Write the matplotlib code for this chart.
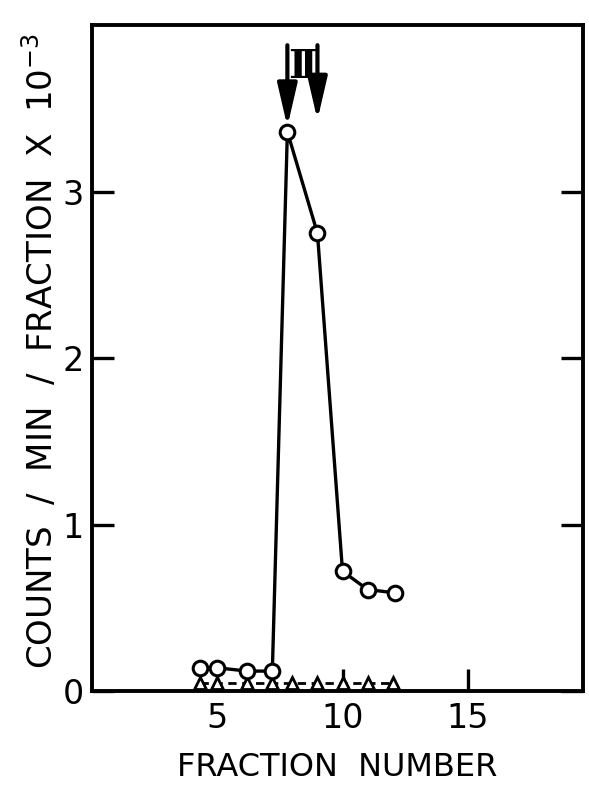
import numpy as np
import matplotlib
matplotlib.use('Agg')
import matplotlib.pyplot as plt

# open circles: counts/min/fraction (x 10^-3)
circle_x = [4.3, 5.0, 6.2, 7.2, 7.8, 9.0, 10.0, 11.0, 12.1]
circle_y = [0.14, 0.14, 0.12, 0.12, 3.36, 2.75, 0.72, 0.61, 0.59]

# open triangles: background, dashed
tri_x = [4.3, 5.0, 6.2, 7.2, 8.0, 9.0, 10.0, 11.0, 12.0]
tri_y = [0.05, 0.05, 0.05, 0.05, 0.05, 0.05, 0.05, 0.05, 0.05]

# arrows marking peak II
arrow_x = [7.8, 9.0]
arrow_tip = [3.39, 3.43]
arrow_top = 3.88

fig = plt.figure(figsize=(5.89, 7.88), dpi=100)
ax = fig.add_axes([0.156, 0.123, 0.834, 0.845])

ax.plot(tri_x, tri_y, color='black', lw=2, ls=(0, (3, 2)),
        marker='^', ms=9, mfc='white', mec='black', mew=2, zorder=2)
ax.plot(circle_x, circle_y, color='black', lw=2.4,
        marker='o', ms=10.5, mfc='white', mec='black', mew=2.2, zorder=3)

for xa, tip in zip(arrow_x, arrow_tip):
    ax.annotate('', xy=(xa, tip), xytext=(xa, arrow_top),
                arrowprops=dict(arrowstyle='-|>,head_length=1.3,head_width=0.3',
                                mutation_scale=20, lw=3, color='black',
                                shrinkA=0, shrinkB=0))
ax.text(8.42, 3.75, 'Ⅱ', ha='center', va='center', fontsize=28,
        fontweight='bold', family='DejaVu Serif')

ax.set_xlim(0, 19.6)
ax.set_ylim(0, 4)
ax.set_xticks([5, 10, 15])
ax.set_yticks([0, 1, 2, 3])
ax.tick_params(axis='both', direction='in', length=16, width=2.4,
               labelsize=24, pad=8)
ax.tick_params(axis='y', right=True, labelright=False, pad=6)
ax.tick_params(axis='x', pad=8)
for s in ax.spines.values():
    s.set_linewidth(2.8)

ax.set_xlabel('FRACTION  NUMBER', fontsize=23, va='center')
ax.xaxis.set_label_coords(0.5, -0.115)
ax.set_ylabel('COUNTS  /  MIN  /  FRACTION  X  10$^{-3}$', fontsize=24.5,
              va='center', ha='center')
ax.yaxis.set_label_coords(-0.106, 0.51)

fig.savefig('out.png', dpi=100)
